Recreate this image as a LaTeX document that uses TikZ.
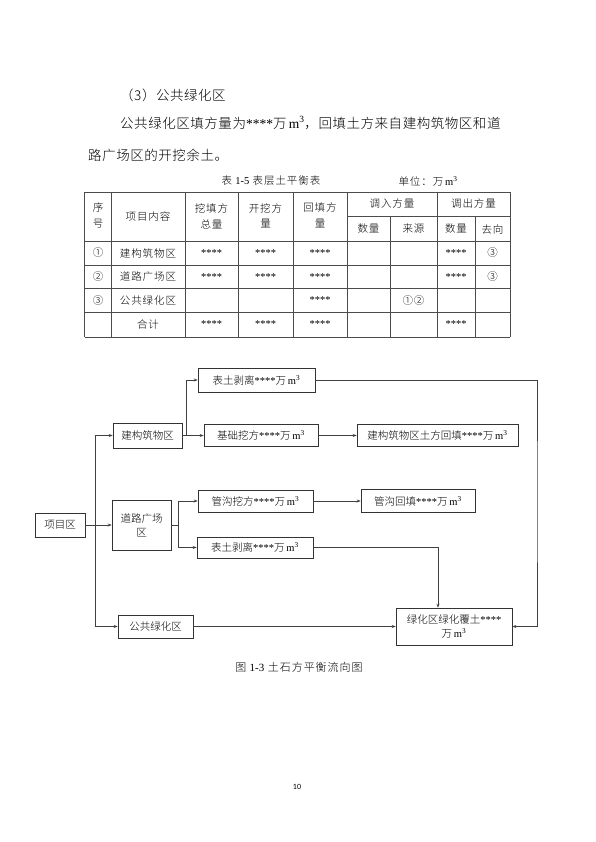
\documentclass[tikz,border=0pt]{standalone}
\usepackage{fontspec}
\setmainfont{Noto Sans CJK SC}[UprightFont=* Light]
\newfontfamily\tnr{Liberation Serif}
\newfontfamily\pgfont{Carlito}
\usetikzlibrary{arrows.meta,positioning,calc}
\newcommand{\wm}{万\,{\tnr m\textsuperscript{3}}}
\newcommand{\xx}{{\tnr ****}}

\begin{document}
\begin{tikzpicture}[>={Stealth[length=4pt,width=3pt]}, x=1pt, y=-1pt,
  box/.style={draw=black!80, line width=0.6pt, inner sep=1pt, align=center, font=\fontsize{10.5}{14}\selectfont},
  link/.style={draw=black!75, line width=0.6pt},
  tline/.style={draw=black!70, line width=0.6pt},
  cell/.style={inner sep=0pt, font=\fontsize{10.5}{13}\selectfont\addfontfeature{LetterSpace=9}},
  body/.style={anchor=west, inner sep=0pt, font=\fontsize{13.5}{16}\selectfont\addfontfeature{LetterSpace=4}}]
\useasboundingbox[fill=white] (0,0) rectangle (595,842);

\node[body] (sec) at (120,95) {（3）公共绿化区};
\node[body] (par1) at (120,123) {公共绿化区填方量为\xx\wm，回填土方来自建构筑物区和道};
\node[body] (par2) at (88,155) {路广场区的开挖余土。};

\node[cell] (ttl) at (271,181) {表 {\tnr 1-5} 表层土平衡表};
\node[cell] (unit) at (428,181) {单位：\wm};

\foreach \y in {192,241,265,288.5,312,337}
  \draw[tline] (84.5,\y) -- (510,\y);
\draw[tline] (347,216.5) -- (510,216.5);
\foreach \x in {84.5,111.5,185,238,293,347,437,510}
  \draw[tline] (\x,192) -- (\x,337);
\foreach \x in {390,475}
  \draw[tline] (\x,216.5) -- (\x,337);

\foreach \x/\a/\b/\n in {98/序/号/1, 211.5/挖填方/总量/3, 265.5/开挖方/量/4, 320/回填方/量/5} {
  \node[cell] (h\n a) at (\x,208) {\a};
  \node[cell] (h\n b) at (\x,224) {\b};
}
\node[cell] (h2) at (148,216.5) {项目内容};
\node[cell] (hin) at (392,204) {调入方量};
\node[cell] (hout) at (473.5,204) {调出方量};
\foreach \x/\t/\n in {368.5/数量/6, 413.5/来源/7, 456/数量/8, 492.5/去向/9}
  \node[cell] (h\n) at (\x,229) {\t};

\foreach \ry/\sn/\nm/\ca/\cb/\cc/\cd/\ce/\cf/\cg in {
    253/①/建构筑物区/\xx/\xx/\xx///\xx/③,
    277/②/道路广场区/\xx/\xx/\xx///\xx/③,
    300.5/③/公共绿化区///\xx//①②//,
    324.5//合计/\xx/\xx/\xx///\xx/} {
  \node[cell] (r\ry-1) at (98,\ry) {\sn};
  \node[cell] (r\ry-2) at (148,\ry) {\nm};
  \node[cell] (r\ry-3) at (211.5,\ry) {\ca};
  \node[cell] (r\ry-4) at (265.5,\ry) {\cb};
  \node[cell] (r\ry-5) at (320,\ry) {\cc};
  \node[cell] (r\ry-6) at (368.5,\ry) {\cd};
  \node[cell] (r\ry-7) at (413.5,\ry) {\ce};
  \node[cell] (r\ry-8) at (456,\ry) {\cf};
  \node[cell] (r\ry-9) at (492.5,\ry) {\cg};
}

\node[box, minimum width=50, minimum height=24] (xmq) at (60,525) {项目区};
\node[box, minimum width=69, minimum height=25] (jgw) at (147.5,435.5) {建构筑物区};
\node[box, minimum width=59, minimum height=50] (dlgc) at (141.5,525) {道路广场\\区};
\node[box, minimum width=75, minimum height=23] (ggl) at (155.5,626.5) {公共绿化区};
\node[box, minimum width=117, minimum height=24] (btbl1) at (256.5,380) {表土剥离\xx\wm};
\node[box, minimum width=114, minimum height=22] (jcwf) at (261,435.5) {基础挖方\xx\wm};
\node[box, minimum width=161, minimum height=22] (jght) at (437.5,435.5) {建构筑物区土方回填\xx\wm};
\node[box, minimum width=115, minimum height=22] (ggwf) at (255.5,501) {管沟挖方\xx\wm};
\node[box, minimum width=114, minimum height=23] (gght) at (418,501) {管沟回填\xx\wm};
\node[box, minimum width=116, minimum height=21] (btbl2) at (255,547.5) {表土剥离\xx\wm};
\node[box, minimum width=116, minimum height=37] (lhfh) at (454,626.5) {绿化区绿化覆土\xx\\\wm};

\coordinate (trunk) at (95,525);
\coordinate (fk1) at (186,435.5);
\coordinate (fk2) at (178,525);
\coordinate (rt) at (537,500);

\draw[link,->] (xmq.east) -- (dlgc.west);
\draw[link,->] (trunk) |- (jgw.west);
\draw[link,->] (trunk) |- (ggl.west);
\draw[link,->] (jgw.east) -- (jcwf.west);
\draw[link,->] (fk1) |- (btbl1.west);
\draw[link,->] (jcwf.east) -- (jght.west);
\draw[link,->] (btbl1.east) -| (rt) |- (lhfh.east);
\draw[link] (dlgc.east) -- (fk2);
\draw[link,->] (fk2) |- (ggwf.west);
\draw[link,->] (fk2) |- (btbl2.west);
\draw[link,->] (ggwf.east) -- (gght.west);
\draw[link,->] (btbl2.east) -| ([xshift=-16pt]lhfh.north);
\draw[link,->] (ggl.east) -- (lhfh.west);

\node[font=\fontsize{11}{13}\selectfont\addfontfeature{LetterSpace=9}] (cap) at (299,667) {图 {\tnr 1-3} 土石方平衡流向图};
\node[font=\pgfont\fontsize{8}{10}\selectfont] (pg) at (297,787) {10};
\end{tikzpicture}
\end{document}
